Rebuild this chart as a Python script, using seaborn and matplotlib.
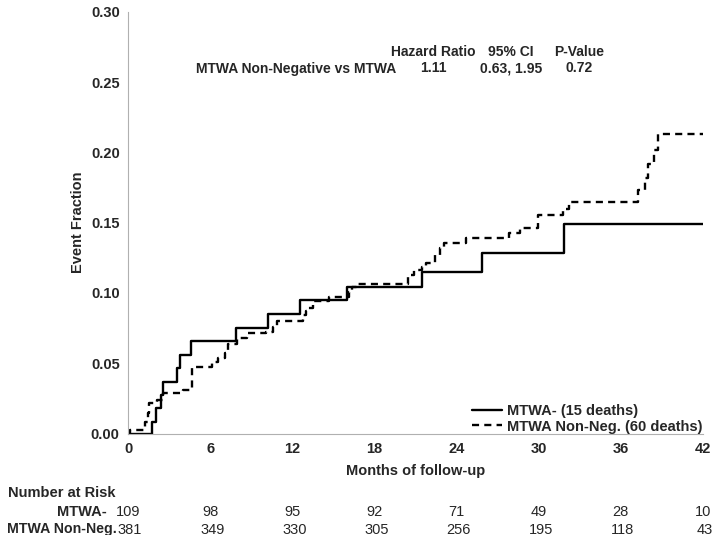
import pandas as pd
import matplotlib
matplotlib.use("Agg")
import matplotlib.pyplot as plt
import matplotlib.transforms as mtransforms
import seaborn as sns

# Cumulative event fraction, MTWA- group (step times in months)
neg_months = [0, 1.73, 2.05, 2.39, 2.53, 3.6, 3.8, 4.63, 7.89, 10.25,
              12.56, 16.0, 21.5, 25.86, 31.87, 42]
neg_frac = [0, 0.0084, 0.0179, 0.0274, 0.0369, 0.0464, 0.0559, 0.0658,
            0.0753, 0.0851, 0.0948, 0.104, 0.1152, 0.1287, 0.1489, 0.1489]

# Cumulative event fraction, MTWA Non-Negative group
nonneg_months = [0, 0.15, 1.24, 1.48, 1.56, 2.09, 2.58, 4.04, 4.65, 6.1,
                 6.6, 7.08, 7.33, 7.94, 8.67, 10.1, 10.6, 10.86, 12.8, 13.0,
                 13.17, 13.48, 14.7, 16.16, 16.33, 16.7, 17.2, 20.48, 20.9,
                 21.45, 21.8, 22.4, 22.77, 23.1, 24.7, 27.8, 28.6, 29.97,
                 31.8, 32.2, 37.25, 37.76, 38.0, 38.4, 38.75, 42]
nonneg_frac = [0, 0.0026, 0.0085, 0.0144, 0.0215, 0.0238, 0.0286, 0.031,
               0.0475, 0.051, 0.054, 0.057, 0.064, 0.0678, 0.0713, 0.0725,
               0.076, 0.080, 0.0843, 0.087, 0.089, 0.0945, 0.0974, 0.101,
               0.1045, 0.1064, 0.1064, 0.1128, 0.116, 0.1187, 0.1211, 0.127,
               0.1318, 0.1354, 0.1389, 0.1425, 0.146, 0.1555, 0.160, 0.165,
               0.1733, 0.1816, 0.192, 0.2018, 0.2132, 0.2132]

# Numbers at risk
risk_months = [0, 6, 12, 18, 24, 30, 36, 42]
risk_neg = [109, 98, 95, 92, 71, 49, 28, 10]
risk_nonneg = [381, 349, 330, 305, 256, 195, 118, 43]

# Hazard ratio table
hr_header = ["Hazard Ratio", "95% CI", "P-Value"]
hr_row = ["1.11", "0.63, 1.95", "0.72"]
hr_label = "MTWA Non-Negative vs MTWA"

sns.set_style("white")
plt.rcParams['font.family'] = ['Liberation Sans', 'DejaVu Sans']

df_neg = pd.DataFrame({"Months": neg_months, "Fraction": neg_frac})
df_non = pd.DataFrame({"Months": nonneg_months, "Fraction": nonneg_frac})

fig = plt.figure(figsize=(7.16, 5.35), dpi=100)
ax = fig.add_axes([0.1788, 0.1897, 0.803, 0.7884])

sns.lineplot(data=df_neg, x="Months", y="Fraction", ax=ax, color="black",
             linewidth=1.7, drawstyle="steps-post", estimator=None,
             label="MTWA- (15 deaths)")
sns.lineplot(data=df_non, x="Months", y="Fraction", ax=ax, color="black",
             linewidth=1.7, drawstyle="steps-post", estimator=None,
             linestyle=(0, (3, 2.2)), label="MTWA Non-Neg. (60 deaths)")

ax.set_xlim(0, 42)
ax.set_ylim(0, 0.30)
ax.set_xticks(risk_months)
ax.set_yticks([0, 0.05, 0.10, 0.15, 0.20, 0.25, 0.30])
ax.set_yticklabels([f"{v:.2f}" for v in ax.get_yticks()])
ax.tick_params(axis="both", direction="out", length=4, width=0.8,
               color="#b0b0b0", labelsize=10.5, pad=2)
for lab in ax.get_xticklabels() + ax.get_yticklabels():
    lab.set_fontweight("bold")
for side in ["left", "bottom"]:
    ax.spines[side].set_color("#b0b0b0")
    ax.spines[side].set_linewidth(0.8)
sns.despine(ax=ax)
ax.set_xlabel("Months of follow-up", fontsize=10.5, fontweight="bold", labelpad=6)
ax.set_ylabel("Event Fraction", fontsize=10.5, fontweight="bold", labelpad=4)

leg = ax.legend(loc="lower right", frameon=False,
                handlelength=2.0, handletextpad=0.4, borderaxespad=0.0,
                borderpad=0.0, labelspacing=0.1,
                prop={"weight": "bold", "size": 10.5})

# Hazard ratio annotation (pixel positions converted to figure fractions)
W, H = 716, 535
hdr_x = [433, 511, 579]
for x, t in zip(hdr_x, hr_header):
    fig.text(x / W, 1 - 52 / H, t, ha="center", va="center",
             fontsize=10, fontweight="bold")
for x, t in zip(hdr_x, hr_row):
    fig.text(x / W, 1 - 68.5 / H, t, ha="center", va="center",
             fontsize=10, fontweight="bold")
fig.text(396 / W, 1 - 68.5 / H, hr_label, ha="right", va="center",
         fontsize=10, fontweight="bold")

# Number at risk table
trans = mtransforms.blended_transform_factory(ax.transData, fig.transFigure)
fig.text(8 / W, 1 - 493 / H, "Number at Risk", ha="left", va="center",
         fontsize=10.5, fontweight="bold")
fig.text(107 / W, 1 - 511.5 / H, "MTWA-", ha="right", va="center",
         fontsize=10.5, fontweight="bold")
fig.text(117 / W, 1 - 529.5 / H, "MTWA Non-Neg.", ha="right", va="center",
         fontsize=10.2, fontweight="bold")
for m, a, b in zip(risk_months, risk_neg, risk_nonneg):
    ax.text(m, 1 - 511.5 / H, str(a), transform=trans, ha="center",
            va="center", fontsize=10.5, clip_on=False)
    ax.text(m + 0.15, 1 - 529.5 / H, str(b), transform=trans, ha="center",
            va="center", fontsize=10.5, clip_on=False)

fig.savefig("out.png", dpi=100)
